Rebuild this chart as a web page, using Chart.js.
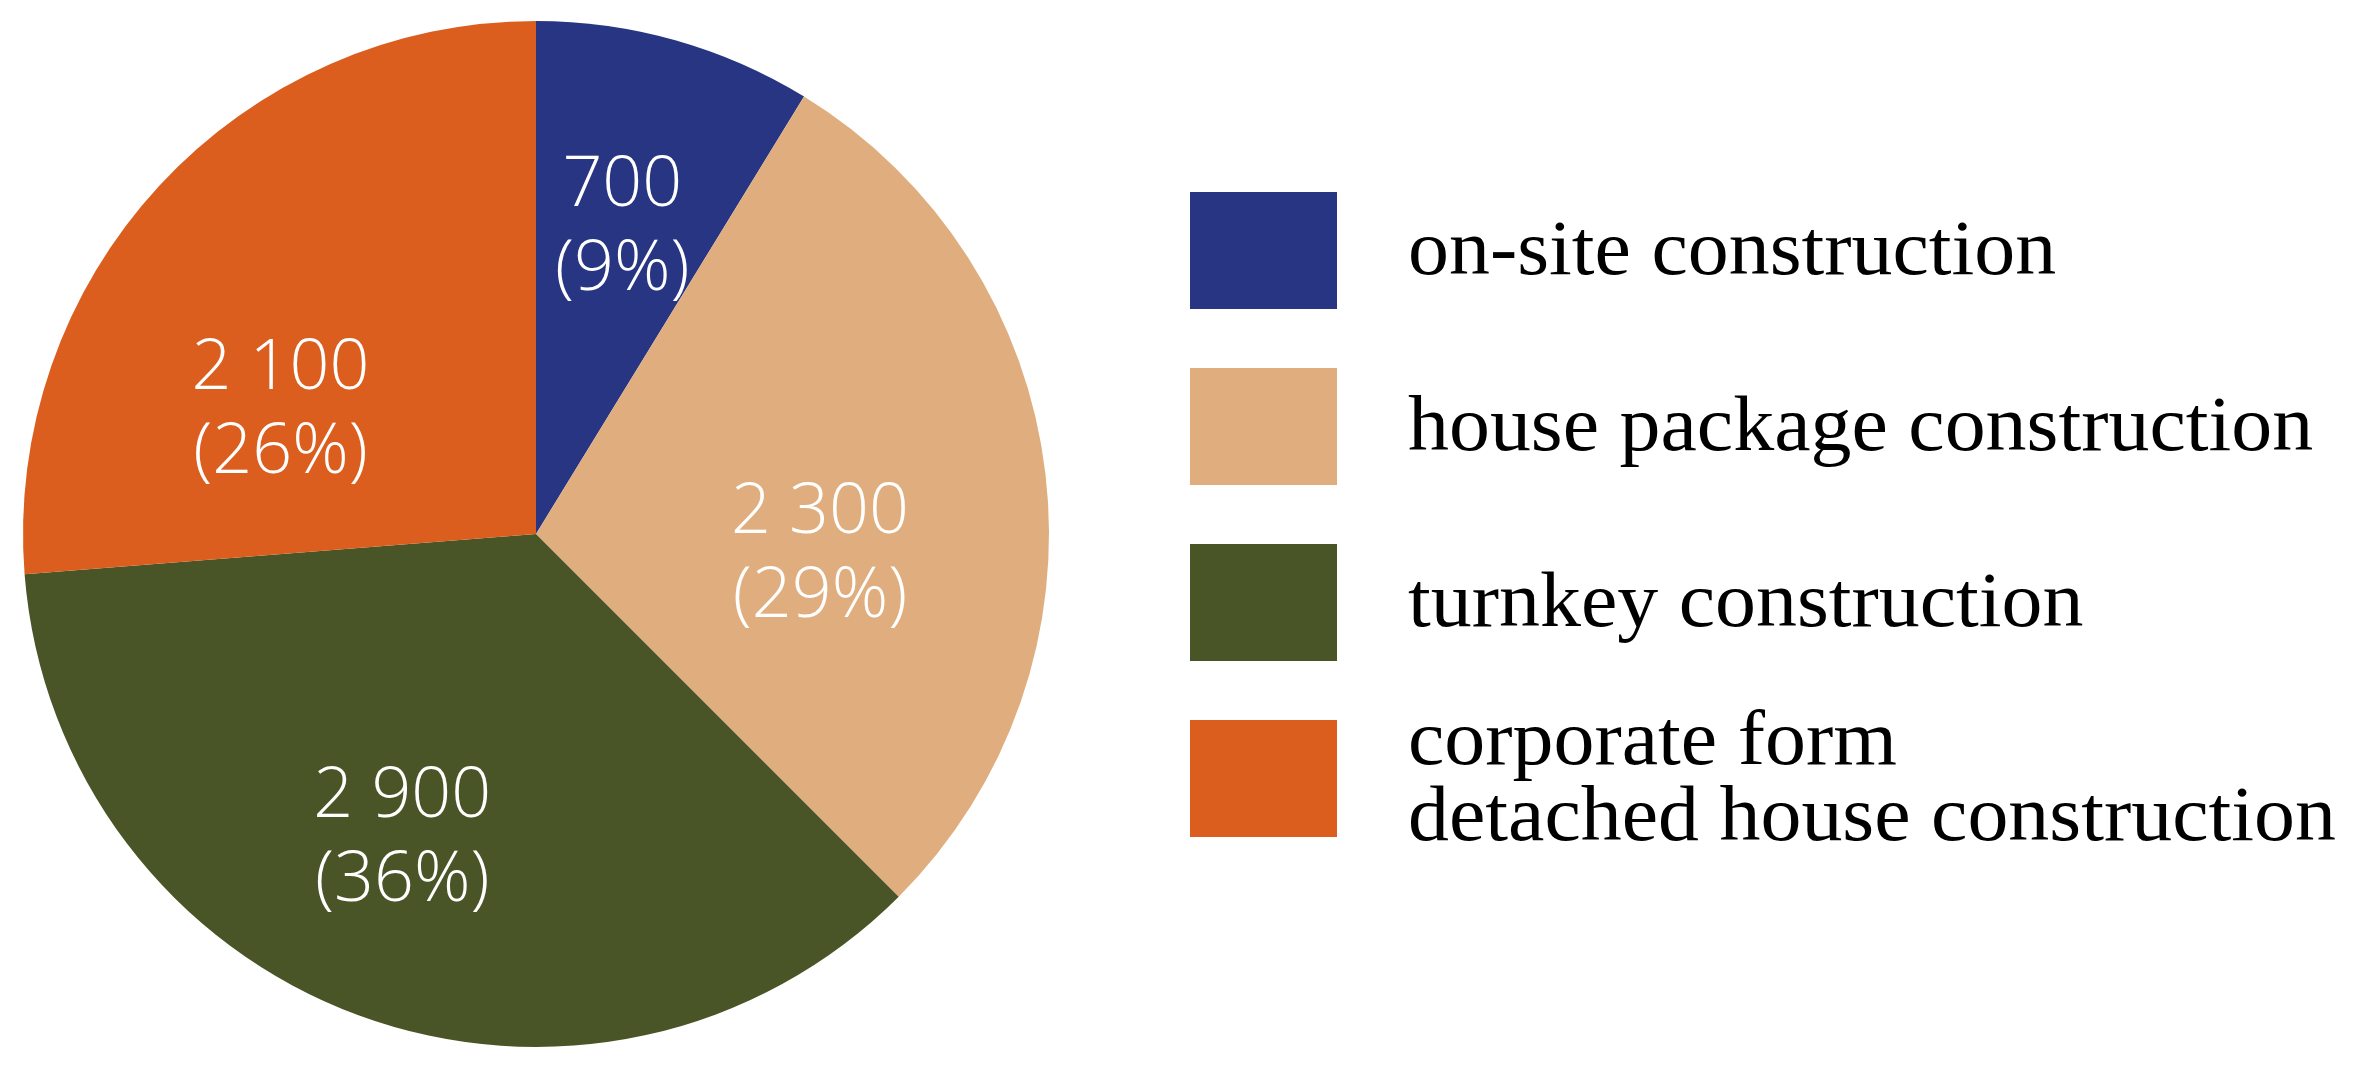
<!DOCTYPE html>
<html>
<head>
<meta charset="utf-8">
<script src="https://cdn.jsdelivr.net/npm/chart.js@4.4.1/dist/chart.umd.min.js"></script>
<style>
  html, body { margin: 0; padding: 0; background: #ffffff; }
  #wrap { width: 2356px; height: 1066px; position: relative; }
</style>
</head>
<body>
<div id="wrap"><canvas id="pieChart"></canvas></div>
<script>
// data
const categories = [
  'on-site construction',
  'house package construction',
  'turnkey construction',
  ['corporate form', 'detached house construction'],
];
const houseCounts = [700, 2300, 2900, 2100];
const valueLabels = ['700', '2 300', '2 900', '2 100'];
const sliceColors = ['#273582', '#e0ae7e', '#495526', '#db5e1e'];

// where each value label sits inside its slice: [fraction of slice angle, fraction of radius]
const labelAnchors = [[0.5, 0.62], [0.606, 0.555], [0.526, 0.65], [0.32, 0.553]];

/**
 * Value + percentage labels inside the slices
 */
const sliceLabels = {
  id: 'sliceLabels',
  afterDatasetsDraw(chart) {
    const { ctx } = chart;
    const meta = chart.getDatasetMeta(0);
    const total = houseCounts.reduce((a, b) => a + b, 0);
    ctx.save();
    ctx.fillStyle = '#ffffff';
    ctx.font = '300 70px "Open Sans", "Noto Sans", sans-serif';
    ctx.textAlign = 'center';
    ctx.textBaseline = 'middle';
    meta.data.forEach((arc, i) => {
      const p = arc.getProps(['x', 'y', 'startAngle', 'endAngle', 'outerRadius'], true);
      const [af, rf] = labelAnchors[i];
      const a = p.startAngle + (p.endAngle - p.startAngle) * af;
      const r = p.outerRadius * rf;
      const x = p.x + Math.cos(a) * r;
      const y = p.y + Math.sin(a) * r;
      const pct = Math.round(houseCounts[i] / total * 100);
      ctx.fillText(valueLabels[i], x, y - 42);
      ctx.fillText('(' + pct + '%)', x, y + 42);
    });
    ctx.restore();
  },
};

/**
 * Legend with big colour boxes on the right
 */
const boxLegend = {
  id: 'boxLegend',
  afterDraw(chart) {
    const { ctx } = chart;
    const colors = chart.data.datasets[0].backgroundColor;
    const boxX = 1190, boxW = 147, boxH = 117, firstTop = 192, step = 176;
    const textX = 1408, stretch = 1.05;
    ctx.save();
    ctx.font = '78px "Liberation Serif", "DejaVu Serif", serif';
    ctx.textAlign = 'left';
    ctx.textBaseline = 'alphabetic';
    chart.data.labels.forEach((label, i) => {
      const top = firstTop + step * i;
      ctx.fillStyle = colors[i];
      ctx.fillRect(boxX, top, boxW, boxH);
      ctx.fillStyle = '#000000';
      const lines = Array.isArray(label) ? label : [label];
      const mid = top + boxH / 2;
      const lineGap = 76;
      lines.forEach((line, j) => {
        const y = mid + 23 + (j - (lines.length - 1) / 2) * lineGap;
        ctx.save();
        ctx.translate(textX, y);
        ctx.scale(stretch, 1);
        ctx.fillText(line, 0, 0);
        ctx.restore();
      });
    });
    ctx.restore();
  },
};

new Chart(document.getElementById('pieChart'), {
  type: 'pie',
  data: {
    labels: categories,
    datasets: [{
      data: houseCounts,
      backgroundColor: sliceColors,
      borderWidth: 0,
    }],
  },
  options: {
    responsive: true,
    maintainAspectRatio: false,
    animation: false,
    layout: {
      padding: { left: 23, top: 21, right: 1307, bottom: 19 },
    },
    plugins: {
      legend: { display: false },
      tooltip: { enabled: false },
    },
  },
  plugins: [sliceLabels, boxLegend],
});
</script>
</body>
</html>
